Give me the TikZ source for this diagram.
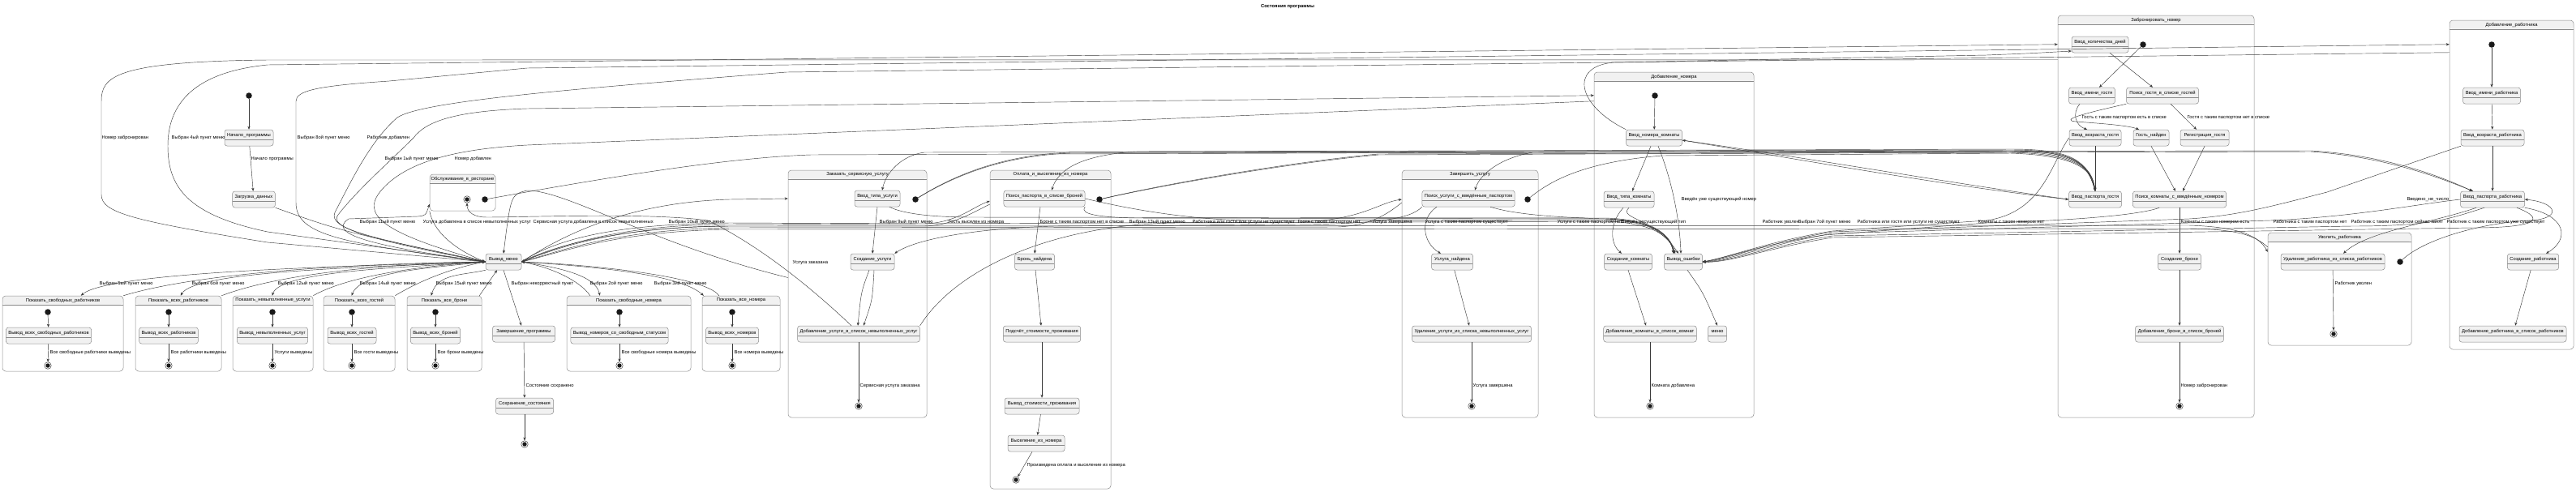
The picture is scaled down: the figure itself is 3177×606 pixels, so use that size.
\documentclass[tikz,border=0pt]{standalone}
\usepackage{fontspec}
\setmainfont{Liberation Sans}
\usetikzlibrary{arrows.meta}
\definecolor{stfill}{HTML}{F1F1F1}
\definecolor{stline}{HTML}{8A8A8A}
\definecolor{edgec}{HTML}{3A3A3A}
\newcommand{\smallfnt}{\fontsize{5.8}{7}\selectfont}
\newcommand{\compbox}[6]{%
  \pgfmathsetmacro{\cbW}{#4-#2}%
  \pgfmathsetmacro{\cbH}{#5-#3}%
  \pgfmathsetmacro{\cbX}{(#2+#4)/2}%
  \pgfmathsetmacro{\cbY}{(#3+#5)/2}%
  \pgfmathsetmacro{\cbT}{#3+5.5}%
  \node[cbox, minimum width=\cbW pt, minimum height=\cbH pt] (#1) at (\cbX,\cbY) {};%
  \node[ttl] (#1T) at (\cbX,\cbT) {#6};%
}
\begin{document}
\begin{tikzpicture}[x=1pt,y=-1pt,
  st/.style={draw=stline, fill=stfill, rounded corners=3pt, minimum height=20pt, inner xsep=3pt, inner ysep=0pt,
    text height=6pt, text depth=10pt, font=\smallfnt, line width=0.5pt,
    path picture={\draw[stline,line width=0.45pt] ([yshift=-12pt]path picture bounding box.north west) -- ([yshift=-12pt]path picture bounding box.north east);}},
  cbox/.style={draw=stline, fill=white, rounded corners=4pt, inner sep=0pt, line width=0.5pt,
    path picture={\fill[stfill] (path picture bounding box.north west) rectangle ([yshift=-11pt]path picture bounding box.north east);
      \draw[stline,line width=0.45pt] ([yshift=-11pt]path picture bounding box.north west) -- ([yshift=-11pt]path picture bounding box.north east);}},
  ttl/.style={font=\smallfnt, inner sep=0pt},
  init/.style={circle, fill=black!90, minimum size=7.5pt, inner sep=0pt},
  fin/.style={circle, draw=black!80, fill=white, minimum size=8.5pt, inner sep=0pt, line width=0.45pt,
    path picture={\fill[black!90] (path picture bounding box.center) circle (2.7pt);}},
  conn/.style={draw=edgec, line width=0.45pt, -{Stealth[length=4pt,width=3.2pt,inset=1.2pt]}},
  lbl/.style={font=\smallfnt, inner sep=0.5pt, anchor=west},
]
\useasboundingbox (0,0) rectangle (3177,606);
\fill[white] (0,0) rectangle (3177,606);
\node[font=\smallfnt\bfseries, inner sep=0pt] (title) at (1588,8) {Состояния программы};

% ---------- composite boxes ----------
\compbox{bPSR}{3}{365}{152}{458}{Показать\_свободных\_работников}
\compbox{bPVR}{167}{365}{273}{458}{Показать\_всех\_работников}
\compbox{bPNU}{287}{365}{386}{458}{Показать\_невыполненные\_услуги}
\compbox{bPVG}{399}{365}{487}{458}{Показать\_всех\_гостей}
\compbox{bPVB}{502}{365}{594}{458}{Показать\_все\_брони}
\compbox{bPSN}{699}{365}{852}{458}{Показать\_свободные\_номера}
\compbox{bPVN}{866}{365}{962}{458}{Показать\_все\_номера}
\compbox{bObs}{530}{215}{611}{260}{Обслуживание\_в\_ресторане}
\compbox{bZak}{972}{210}{1143}{515}{Заказать\_сервисную\_услугу}
\compbox{bOpl}{1221}{210}{1370}{603}{Оплата\_и\_выселение\_из\_номера}
\compbox{bZaU}{1729}{210}{1897}{515}{Завершить\_услугу}
\compbox{bDN}{1966}{89}{2163}{515}{Добавление\_номера}
\compbox{bZN}{2538}{19}{2780}{515}{Забронировать\_номер}
\compbox{bUv}{2797}{287}{2974}{426}{Уволить\_работника}
\compbox{bDR}{3021}{25}{3174}{431}{Добавление\_работника}

% ---------- top level states ----------
\node[init] (t0) at (307,118) {};
\node[st, minimum width=60pt] (nach) at (307,170) {Начало\_программы};
\node[st, minimum width=52pt] (zagr) at (313,246) {Загрузка\_данных};
\node[st, minimum width=44pt] (menu) at (621,323) {Вывод\_меню};
\node[st, minimum width=77pt] (zav) at (646,412) {Завершение\_программы};
\node[st, minimum width=71pt] (sohr) at (647,501) {Сохранение\_состояния};
\node[fin] (fEnd) at (647,548) {};

% ---------- show boxes content ----------
\node[init] (i1) at (59,385) {};
\node[st, minimum width=105pt] (n1) at (60,414) {Вывод\_всех\_свободных\_работников};
\node[fin] (f1) at (59,451) {};
\node[init] (i2) at (208,385) {};
\node[st, minimum width=72pt] (n2) at (208,414) {Вывод\_всех\_работников};
\node[fin] (f2) at (208,451) {};
\node[init] (i3) at (336,385) {};
\node[st, minimum width=87pt] (n3) at (336,414) {Вывод\_невыполненных\_услуг};
\node[fin] (f3) at (336,451) {};
\node[init] (i4) at (434,385) {};
\node[st, minimum width=60pt] (n4) at (434,414) {Вывод\_всех\_гостей};
\node[fin] (f4) at (434,451) {};
\node[init] (i5) at (537,385) {};
\node[st, minimum width=61pt] (n5) at (537,414) {Вывод\_всех\_броней};
\node[fin] (f5) at (537,451) {};
\node[init] (i6) at (764,385) {};
\node[st, minimum width=120pt] (n6) at (764,414) {Вывод\_номеров\_со\_свободным\_статусом};
\node[fin] (f6) at (764,451) {};
\node[init] (i7) at (903,385) {};
\node[st, minimum width=64pt] (n7) at (903,414) {Вывод\_всех\_номеров};
\node[fin] (f7) at (903,451) {};

% ---------- restaurant ----------
\node[fin] (obsF) at (576,246) {};
\node[init] (obsI) at (598,246) {};

% ---------- order service ----------
\node[st, minimum width=56pt] (vtU) at (1082,245) {Ввод\_типа\_услуги};
\node[init] (zakI) at (1129,246) {};
\node[st, minimum width=54pt] (su) at (1076,323) {Создание\_услуги};
\node[st, minimum width=149pt] (dobU) at (1059,412) {Добавление\_услуги\_в\_список\_невыполненных\_услуг};
\node[fin] (zakF) at (1059,501) {};

% ---------- payment ----------
\node[st, minimum width=100pt] (ppb) at (1288,245) {Поиск\_паспорта\_в\_списке\_броней};
\node[init] (oplI) at (1356,246) {};
\node[st, minimum width=49pt] (bn) at (1276,323) {Бронь\_найдена};
\node[st, minimum width=95pt] (pst) at (1285,412) {Подсчёт\_стоимости\_проживания};
\node[st, minimum width=92pt] (vst) at (1285,501) {Вывод\_стоимости\_проживания};
\node[st, minimum width=70pt] (vyi) at (1278,547) {Выселение\_из\_номера};
\node[fin] (oplF) at (1253,592) {};

% ---------- finish service ----------
\node[st, minimum width=111pt] (pus) at (1811,245) {Поиск\_услуги\_с\_введённым\_паспортом};
\node[init] (zauI) at (1884,246) {};
\node[st, minimum width=51pt] (un) at (1791,323) {Услуга\_найдена};
\node[st, minimum width=145pt] (uu) at (1815,412) {Удаление\_услуги\_из\_списка\_невыполненных\_услуг};
\node[fin] (zauF) at (1815,501) {};

% ---------- add room ----------
\node[init] (dnI) at (2041,118) {};
\node[st, minimum width=69pt] (vnk) at (2040,170) {Ввод\_номера\_комнаты};
\node[st, minimum width=62pt] (vtk) at (2009,246) {Ввод\_типа\_комнаты};
\node[st, minimum width=59pt] (sk) at (2008,323) {Создание\_комнаты};
\node[st, minimum width=47pt] (vo) at (2076,323) {Вывод\_ошибки};
\node[st, minimum width=114pt] (dk) at (2035,412) {Добавление\_комнаты\_в\_список\_комнат};
\node[st, minimum width=23pt] (mn) at (2118,412) {меню};
\node[fin] (dnF) at (2035,501) {};

% ---------- booking ----------
\node[st, minimum width=70pt] (vkd) at (2590,55) {Ввод\_количества\_дней};
\node[init] (zbI) at (2643,55) {};
\node[st, minimum width=57pt] (vig) at (2580,118) {Ввод\_имени\_гостя};
\node[st, minimum width=89pt] (pg) at (2667,118) {Поиск\_гостя\_в\_списке\_гостей};
\node[st, minimum width=64pt] (vvg) at (2584,170) {Ввод\_возраста\_гостя};
\node[st, minimum width=44pt] (gn) at (2653,170) {Гость\_найден};
\node[st, minimum width=60pt] (rg) at (2719,170) {Регистрация\_гостя};
\node[st, minimum width=65pt] (gPass) at (2584,246) {Ввод\_паспорта\_гостя};
\node[st, minimum width=111pt] (pk) at (2688,246) {Поиск\_комнаты\_с\_введённым\_номером};
\node[st, minimum width=53pt] (sb) at (2688,323) {Создание\_брони};
\node[st, minimum width=109pt] (db) at (2688,412) {Добавление\_брони\_в\_список\_броней};
\node[fin] (zbF) at (2688,501) {};

% ---------- fire worker ----------
\node[st, minimum width=128pt] (udR) at (2877,323) {Удаление\_работника\_из\_списка\_работников};
\node[init] (uvI) at (2960,323) {};
\node[fin] (uvF) at (2878,412) {};

% ---------- add worker ----------
\node[init] (drI) at (3073,55) {};
\node[st, minimum width=71pt] (vir) at (3073,118) {Ввод\_имени\_работника};
\node[st, minimum width=78pt] (vvr) at (3074,170) {Ввод\_возраста\_работника};
\node[st, minimum width=79pt] (vpr) at (3074,246) {Ввод\_паспорта\_работника};
\node[st, minimum width=63pt] (sozR) at (3124,323) {Создание\_работника};
\node[st, minimum width=132pt] (dobR) at (3099,412) {Добавление\_работника\_в\_список\_работников};

% ================= EDGES =================
\draw[conn] (t0) -- (nach);
\draw[conn] (nach) -- (zagr);
\draw[conn] (zagr.south east) .. controls (420,285) .. (menu.west);
\draw[conn] (menu.south) -- ([xshift=-3pt]zav.north);
\draw[conn] (zav) -- (sohr);
\draw[conn] (sohr) -- (fEnd);

% show boxes
\foreach \k in {1,...,7}{\draw[conn] (i\k) -- (n\k); \draw[conn] (n\k) -- (f\k);}
\draw[conn] (menu.west) .. controls (450,328) and (135,334) .. ([xshift=97pt]bPSR.north west);
\draw[conn] (bPSR.north east) .. controls (250,335) and (450,325) .. (menu.west);
\draw[conn] (menu.west) .. controls (450,330) and (240,334) .. ([xshift=56pt]bPVR.north west);
\draw[conn] (bPVR.north east) .. controls (350,336) and (480,326) .. (menu.west);
\draw[conn] (menu.west) .. controls (500,330) and (345,334) .. ([xshift=49pt]bPNU.north west);
\draw[conn] (bPNU.north east) .. controls (430,340) and (520,328) .. (menu.west);
\draw[conn] (menu.west) .. controls (540,330) and (445,334) .. ([xshift=35pt]bPVG.north west);
\draw[conn] (bPVG.north east) .. controls (520,345) and (560,330) .. (menu.west);
\draw[conn] (menu.south west) .. controls (570,340) and (540,337) .. ([xshift=30pt]bPVB.north west);
\draw[conn] ([xshift=-3pt]bPVB.north east) -- ([xshift=-8pt]menu.south);
\draw[conn] (menu.east) .. controls (690,330) and (735,340) .. ([xshift=41pt]bPSN.north west);
\draw[conn] ([xshift=29pt]bPSN.north west) .. controls (715,346) and (680,330) .. (menu.east);
\draw[conn] (menu.east) .. controls (750,330) and (840,340) .. ([xshift=2pt]bPVN.north west);
\draw[conn] ([xshift=21pt]bPVN.north west) .. controls (870,340) and (720,326) .. (menu.east);

% big loops on the left
\draw[conn] ([yshift=-55pt]bZN.north west) -- (330,74) .. controls (140,76) and (125,95) .. (125,125) -- (125,240) .. controls (125,262) and (160,272) .. (330,299) -- (menu.west);
\draw[conn] (menu.west) -- (330,286) .. controls (230,265) and (207,230) .. (207,180) .. controls (207,120) and (250,88) .. (330,80) -- ([yshift=-36pt]bZN.north west);
\draw[conn] (menu.west) .. controls (420,300) and (365,290) .. (365,250) -- (365,125) .. controls (365,112) and (390,106) .. (480,100) -- (650,84) -- ([yshift=-30pt]bDR.north west);
\draw[conn] ([yshift=-40pt]bDR.north west) -- (970,89) .. controls (700,110) and (520,125) .. (490,145) .. controls (455,175) and (430,230) .. (413,262) .. controls (405,282) and (450,292) .. (menu.west);
\draw[conn] (menu.west) .. controls (450,295) and (405,280) .. (417,265) .. controls (440,235) and (480,200) .. (510,170) .. controls (525,150) and (560,137) .. (650,134) -- ([yshift=-29pt]bDN.north west);
\draw[conn] ([yshift=-36pt]bDN.north west) -- (650,179) .. controls (560,184) and (500,200) .. (470,235) .. controls (445,265) and (470,287) .. (menu.west);

% restaurant
\draw[conn] (menu.west) .. controls (470,305) and (400,290) .. (430,270) -- (515,267) .. controls (525,266) .. ([yshift=-37pt]bObs.north west);
\draw[conn] (bObs.south west) .. controls (535,290) and (570,312) .. (menu.west);
\draw[conn] ([xshift=-9pt]dobU.north) .. controls (990,345) and (930,300) .. (873,272) .. controls (800,262) and (650,268) .. (600,268) .. controls (585,268) and (576,262) .. (obsF.south);
\draw[conn] ([yshift=20pt]bZak.west) .. controls (800,300) and (700,235) .. (650,235) .. controls (630,240) .. (menu.north);
\draw[conn] (obsI) .. controls (700,228) and (880,195) .. (1000,191) -- (2480,186) .. controls (2560,186) and (2580,205) .. (gPass.north);
\draw[conn] (zakI) .. controls (1180,215) and (1240,192) .. (1320,189) -- (2480,187) .. controls (2560,188) and (2580,206) .. (gPass.north);
\draw[conn] (oplI) .. controls (1450,225) and (1600,200) .. (1700,191) -- (2480,188) .. controls (2560,190) and (2580,207) .. (gPass.north);
\draw[conn] (zauI) .. controls (1910,225) and (1950,200) .. (2050,192) -- (2480,189) .. controls (2560,192) and (2580,208) .. (gPass.north);
\draw[conn] (zakI) .. controls (1180,214) and (1240,191) .. (1320,188) -- (2850,186) .. controls (2950,192) and (3020,222) .. ([xshift=-25pt]vpr.north);
\draw[conn] (oplI) .. controls (1450,224) and (1600,199) .. (1700,190) -- (2850,187) .. controls (2950,194) and (3020,224) .. ([xshift=-24pt]vpr.north);
\draw[conn] (gPass.north) .. controls (2575,200) and (2560,184) .. (2480,184) -- (1140,188) .. controls (1110,192) and (1092,215) .. ([xshift=6pt]vtU.north);
\draw[conn] (gPass.north) .. controls (2575,201) and (2560,185) .. (2480,185) -- (1400,187) .. controls (1330,192) and (1305,210) .. ([xshift=9pt]ppb.north);
\draw[conn] (gPass.north) .. controls (2575,202) and (2560,186) .. (2480,186) -- (1890,188) .. controls (1850,195) and (1825,215) .. ([xshift=8pt]pus.north);
\draw[conn] (gPass.west) .. controls (2400,225) and (2250,198) .. ([yshift=-3pt]vnk.east);
\draw[conn] ([yshift=-3pt]vnk.east) .. controls (2250,202) and (2400,229) .. (gPass.west);
\draw[conn] (vnk.north west) .. controls (1945,130) and (1935,82) .. (1990,77) -- (2450,68) .. controls (2500,66) .. ([yshift=-8pt]vkd.west);

% order service inner
\draw[conn] (vtU.south) -- (su.north);
\draw[conn] ([xshift=-4pt]su.south) .. controls (1062,360) .. ([xshift=-1pt]dobU.north);
\draw[conn] ([xshift=2pt]su.south) .. controls (1076,370) .. ([xshift=6pt]dobU.north);
\draw[conn] (dobU) -- (zakF);
\draw[conn] (pus.south west) .. controls (1740,270) and (1700,276) .. (1600,277) -- (1300,279) .. controls (1200,282) and (1130,295) .. (su.north east);

% payment inner
\draw[conn] ([xshift=-5pt]ppb.south) -- (bn.north);
\draw[conn] (bn) -- ([xshift=-1pt]pst.north);
\draw[conn] (pst) -- (vst);
\draw[conn] (vst) -- (vyi);
\draw[conn] ([xshift=-5pt]vyi.south) -- (oplF);

% finish service inner
\draw[conn] ([xshift=-39pt]pus.south) .. controls (1750,270) and (1755,300) .. ([xshift=-14pt]un.north);
\draw[conn] (un) -- ([xshift=-3pt]uu.north);
\draw[conn] (uu) -- (zauF);

% add room inner
\draw[conn] (dnI) -- (vnk);
\draw[conn] ([xshift=-4pt]vnk.south) -- ([xshift=4pt]vtk.north);
\draw[conn] ([xshift=5pt]vnk.south) .. controls (2065,230) and (2072,280) .. ([xshift=-3pt]vo.north);
\draw[conn] ([xshift=-7pt]vtk.south) .. controls (1985,275) and (1985,300) .. ([xshift=-8pt]sk.north);
\draw[conn] (vtk.south) .. controls (1995,270) and (2040,268) .. ([xshift=-6pt]vo.north);
\draw[conn] (sk.south) -- ([xshift=-5pt]dk.north);
\draw[conn] ([xshift=5pt]vo.south) .. controls (2100,360) .. (mn.north);
\draw[conn] (dk) -- (dnF);

% booking inner
\draw[conn] (zbI) -- ([xshift=9pt]vig.north);
\draw[conn] ([xshift=12pt]vkd.south) -- ([xshift=-12pt]pg.north);
\draw[conn] ([xshift=-15pt]vig.south) .. controls (2555,140) and (2560,155) .. ([xshift=-10pt]vvg.north);
\draw[conn] (pg.south west) .. controls (2570,140) and (2540,148) .. (2560,150) .. controls (2600,153) and (2625,155) .. ([xshift=-15pt]gn.north);
\draw[conn] ([xshift=10pt]pg.south) -- ([xshift=-10pt]rg.north);
\draw[conn] (vvg) -- (gPass);
\draw[conn] (gn.south) -- ([xshift=-5pt]pk.north);
\draw[conn] (rg.south) -- ([xshift=4pt]pk.north);
\draw[conn] (pk) -- (sb);
\draw[conn] (sb) -- (db);
\draw[conn] (db) -- (zbF);

% workers
\draw[conn] (drI) -- (vir);
\draw[conn] (vir) -- (vvr);
\draw[conn] (vvr) -- (vpr);
\draw[conn] (vpr.south east) .. controls (3165,265) and (3170,295) .. ([xshift=16pt]sozR.north);
\draw[conn] (sozR) -- ([xshift=3pt]dobR.north);
\draw[conn] (uvI) .. controls (2990,295) and (3060,275) .. (3120,272) .. controls (3160,270) and (3155,250) .. (vpr.east);
\draw[conn] ([xshift=-20pt]vpr.south) .. controls (3000,275) and (2920,285) .. ([xshift=13pt]udR.north);
\draw[conn] (udR) -- (uvF);

% errors into vo from the right
\draw[conn] ([xshift=-25pt]pk.south) .. controls (2640,265) and (2560,272) .. (2450,275) -- (2250,290) .. controls (2180,300) and (2130,318) .. (vo.east);
\draw[conn] (vvr.south west) -- (2870,237) .. controls (2800,255) and (2760,266) .. (2700,270) -- (2260,286) .. controls (2180,300) and (2130,320) .. (vo.east);
\draw[conn] (vpr.west) .. controls (2980,252) and (2900,268) .. (2800,272) -- (2260,288) .. controls (2180,302) and (2130,322) .. (vo.east);
\draw[conn] ([xshift=-10pt]vpr.south) .. controls (3020,270) and (3000,279) .. (2900,279) -- (2260,291) .. controls (2180,304) and (2130,324) .. (vo.east);
\draw[conn] ([xshift=30pt]vpr.south) .. controls (3140,270) and (3130,281) .. (3050,281) -- (2260,293) .. controls (2180,306) and (2130,325) .. (vo.east);
\draw[conn] (vvg.west) .. controls (2530,200) and (2520,262) .. (2450,272) -- (2260,285) .. controls (2180,298) and (2130,318) .. (vo.east);

% errors into vo from the left
\draw[conn] (ppb.south east) .. controls (1330,265) and (1360,268) .. (1400,269) -- (1980,270) .. controls (2040,272) and (2060,290) .. ([xshift=-12pt]vo.north);
\draw[conn] ([xshift=15pt]vtU.south) .. controls (1110,262) and (1140,268) .. (1200,268) -- (1980,269) .. controls (2040,271) and (2060,289) .. ([xshift=-12pt]vo.north);
\draw[conn] ([xshift=27pt]pus.south) .. controls (1870,265) and (1920,268) .. (1980,270) .. controls (2040,272) and (2060,290) .. ([xshift=-10pt]vo.north);
\draw[conn] (ppb.east) .. controls (1360,250) and (1450,272) .. (1550,272) -- (1980,271) .. controls (2040,273) and (2060,291) .. ([xshift=-11pt]vo.north);
\draw[conn] (dobU.north east) .. controls (1180,330) and (1300,277) .. (1450,275) -- (1980,273) .. controls (2040,275) and (2060,292) .. ([xshift=-11pt]vo.north);

% menu <-> right composites through the band
\draw[conn] (menu.east) .. controls (680,300) and (760,250) .. (900,246) -- ([yshift=117.5pt]bZak.west);
\draw[conn] (menu.east) .. controls (700,285) and (800,276) .. (900,275) -- (1140,276) .. controls (1180,275) and (1200,255) .. ([yshift=158.5pt]bOpl.west);
\draw[conn] ([yshift=154.5pt]bOpl.west) .. controls (1200,262) and (1175,278) .. (1140,279) -- (900,279) .. controls (760,280) and (680,305) .. (menu.east);
\draw[conn] (menu.east) .. controls (720,290) and (800,277) .. (900,277) -- (1600,274) .. controls (1680,272) and (1700,250) .. ([yshift=116.5pt]bZaU.west);
\draw[conn] ([yshift=112.5pt]bZaU.west) .. controls (1710,265) and (1690,278) .. (1650,280) -- (900,281) .. controls (760,283) and (690,310) .. (menu.east);
\draw[conn] (menu.east) .. controls (720,292) and (800,279) .. (900,279) -- (2700,278) .. controls (2760,280) and (2785,290) .. ([yshift=-24pt]bUv.north west);
\draw[conn] ([yshift=-18pt]bUv.north west) .. controls (2780,290) and (2760,283) .. (2700,282) -- (900,283) .. controls (760,285) and (690,312) .. (menu.east);

% ================= LABELS =================
\node[lbl] (L1) at (309,196) {Начало программы};
\node[lbl] (L2) at (125,170) {Номер забронирован};
\node[lbl] (L3) at (211,170) {Выбран 4ый пункт меню};
\node[lbl] (L4) at (366,170) {Выбран 8ой пункт меню};
\node[lbl] (L5) at (452,170) {Работник добавлен};
\node[lbl] (L6) at (474,196) {Выбран 1ый пункт меню};
\node[lbl] (L7) at (560,196) {Номер добавлен};
\node[lbl] (L8) at (122,350) {Выбран 5ый пункт меню};
\node[lbl] (L9) at (236,350) {Выбран 6ой пункт меню};
\node[lbl] (L10) at (342,350) {Выбран 12ый пункт меню};
\node[lbl] (L11) at (443,350) {Выбран 14ый пункт меню};
\node[lbl] (L12) at (537,350) {Выбран 15ый пункт меню};
\node[lbl] (L13) at (630,350) {Выбран некорректный пункт};
\node[lbl] (L14) at (727,350) {Выбран 2ой пункт меню};
\node[lbl] (L15) at (806,350) {Выбран 3ий пункт меню};
\node[lbl] (L16) at (648,476) {Состояние сохранено};
\node[lbl] (L17) at (61,435) {Все свободные работники выведены};
\node[lbl] (L18) at (210,435) {Все работники выведены};
\node[lbl] (L19) at (338,435) {Услуги выведены};
\node[lbl] (L20) at (436,435) {Все гости выведены};
\node[lbl] (L21) at (539,435) {Все брони выведены};
\node[lbl] (L22) at (766,435) {Все свободные номера выведены};
\node[lbl] (L23) at (905,435) {Все номера выведены};
\node[lbl] (L24) at (443,274) {Выбран 11ый пункт меню};
\node[lbl] (L25) at (521,274) {Услуга добавлена в список невыполненных услуг};
\node[lbl] (L26) at (657,274) {Сервисная услуга добавлена в список невыполненных};
\node[lbl] (L27) at (824,274) {Выбран 10ый пункт меню};
\node[lbl] (L28) at (977,324) {Услуга заказана};
\node[lbl] (L29) at (1084,274) {Выбран 9ый пункт меню};
\node[lbl] (L30) at (1169,274) {Гость выселен из номера};
\node[lbl] (L31) at (1060,476) {Сервисная услуга заказана};
\node[lbl] (L32) at (1282,274) {Брони с таким паспортом нет в списке};
\node[lbl] (L33) at (1392,274) {Выбран 13ый пункт меню};
\node[lbl] (L34) at (1470,274) {Работника или гостя или услуги не существует};
\node[lbl] (L35) at (1600,274) {Гостя с таким паспортом нет};
\node[lbl] (L36) at (1692,274) {Услуга завершена};
\node[lbl] (L37) at (1757,274) {Услуга с таким паспортом существует};
\node[lbl] (L38) at (1920,274) {Услуги с таким паспортом нет};
\node[lbl] (L39) at (1999,274) {Введён несуществующий тип};
\node[lbl] (L40) at (2173,274) {Работник уволен};
\node[lbl] (L41) at (2217,274) {Выбран 7ой пункт меню};
\node[lbl] (L42) at (2290,274) {Работника или гостя или услуги не существует};
\node[lbl] (L43) at (2439,274) {Комнаты с таким номером нет};
\node[lbl] (L44) at (2689,274) {Комнаты с таким номером есть};
\node[lbl] (L45) at (2803,274) {Работника с таким паспортом нет};
\node[lbl] (L46) at (2899,274) {Работник с таким паспортом сейчас занят};
\node[lbl] (L47) at (3017,274) {Работник с таким паспортом уже существует};
\node[lbl, anchor=east] (L48) at (3021,246) {Введено\_не\_число};
\node[lbl] (L49) at (1266,574) {Произведена оплата и выселение из номера};
\node[lbl] (L50) at (1816,476) {Услуга завершена};
\node[lbl] (L51) at (2073,246) {Введён уже существующий номер};
\node[lbl] (L52) at (2036,476) {Комната добавлена};
\node[lbl] (L53) at (2567,145) {Гость с таким паспортом есть в списке};
\node[lbl] (L54) at (2697,145) {Гостя с таким паспортом нет в списке};
\node[lbl] (L55) at (2689,476) {Номер забронирован};
\node[lbl] (L56) at (2879,350) {Работник уволен};
\end{tikzpicture}
\end{document}
